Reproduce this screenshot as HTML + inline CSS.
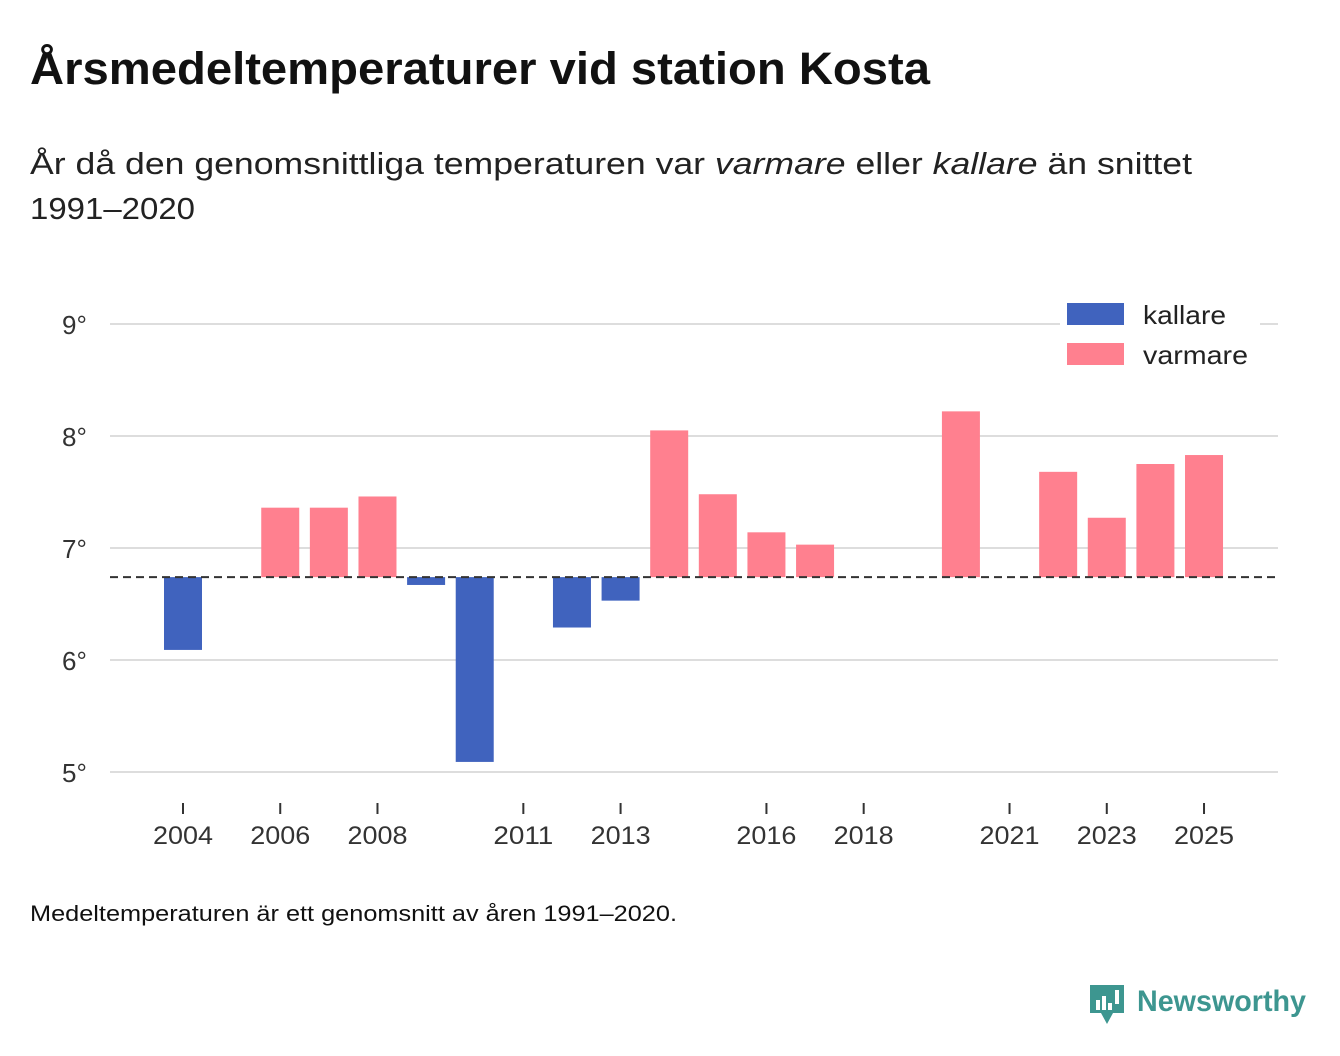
<!DOCTYPE html>
<html><head><meta charset="utf-8"><style>
body{margin:0;background:#fff;font-family:"Liberation Sans",sans-serif;color:#111;}
#wrap{position:relative;width:1340px;height:1056px;overflow:hidden;}
</style></head><body>
<div id="wrap">
<svg id="svg" width="1340" height="1056">
<text x="30" y="84" font-size="45" font-weight="bold" fill="#111" textLength="900" lengthAdjust="spacingAndGlyphs">Årsmedeltemperaturer vid station Kosta</text>
<text x="30" y="174" font-size="31" fill="#222" textLength="1162" lengthAdjust="spacingAndGlyphs">År då den genomsnittliga temperaturen var <tspan font-style="italic">varmare</tspan> eller <tspan font-style="italic">kallare</tspan> än snittet</text>
<text x="30" y="219" font-size="31" fill="#222" textLength="165" lengthAdjust="spacingAndGlyphs">1991–2020</text>
<g id="grid"></g><g id="bars"></g><g id="xaxis"></g>
<g>
<rect x="1060" y="296" width="200" height="80" fill="#fff"/>
<rect x="1067" y="303" width="57" height="22" fill="#4063be"/>
<text x="1143" y="324" font-size="26" fill="#222" textLength="83" lengthAdjust="spacingAndGlyphs">kallare</text>
<rect x="1067" y="343" width="57" height="22" fill="#ff808f"/>
<text x="1143" y="364" font-size="26" fill="#222" textLength="105" lengthAdjust="spacingAndGlyphs">varmare</text>
</g>
<text x="30" y="921" font-size="22" fill="#111" textLength="647" lengthAdjust="spacingAndGlyphs">Medeltemperaturen är ett genomsnitt av åren 1991–2020.</text>
<g>
<path d="M1090 985 h34 v28 h-11 l-6 11 l-6 -11 h-11 z" fill="#3d9690"/>
<rect x="1096" y="1000" width="4" height="10" fill="#fff"/><rect x="1102" y="996" width="4" height="14" fill="#fff"/><rect x="1108" y="1003" width="4" height="7" fill="#fff"/><rect x="1115" y="990" width="4" height="14" fill="#fff"/>
<text x="1137" y="1011" font-size="30" font-weight="bold" fill="#3d9690" textLength="169" lengthAdjust="spacingAndGlyphs">Newsworthy</text>
</g>
</svg></div>
<script>
const years=[2004,2006,2007,2008,2009,2010,2012,2013,2014,2015,2016,2017,2020,2022,2023,2024,2025];
const temps=[6.09,7.36,7.36,7.46,6.67,5.09,6.29,6.53,8.05,7.48,7.14,7.03,8.22,7.68,7.27,7.75,7.83];
const baseline=6.74;
const yTicks=[5,6,7,8,9];
const xTicks=[2004,2006,2008,2011,2013,2016,2018,2021,2023,2025];
const NS='http://www.w3.org/2000/svg';
const y=v=>324+(9-v)*112;
const x=yr=>183+(yr-2004)*48.62;
function mk(tag,attrs,parent){const e=document.createElementNS(NS,tag);for(const k in attrs)e.setAttribute(k,attrs[k]);document.getElementById(parent).appendChild(e);return e;}
yTicks.forEach(t=>{
 const l=mk('line',{x1:110,x2:1278,y1:y(t),y2:y(t),stroke:'#ddd','stroke-width':2},'grid');
 
 
 const tx=mk('text',{x:62,y:y(t)+10,'font-size':26,fill:'#333'},'grid');tx.textContent=t+'°';
 
 
});
years.forEach((yr,i)=>{
 const v=temps[i],t=Math.min(y(v),y(baseline)),h=Math.abs(y(v)-y(baseline));
 const r=mk('rect',{x:x(yr)-19,y:t,width:38,height:h,fill:v<baseline?'#4063be':'#ff808f'},'bars');
 
 
});
const b=mk('line',{x1:110,x2:1278,y1:y(baseline),y2:y(baseline),stroke:'#333','stroke-width':2,'stroke-dasharray':'8,5'},'bars');


xTicks.forEach(yr=>{
 const l=mk('line',{x1:x(yr),x2:x(yr),y1:803,y2:814,stroke:'#333','stroke-width':2},'xaxis');
 
 
 const tx=mk('text',{x:x(yr),y:844,'font-size':25,fill:'#333','text-anchor':'middle','textLength':60,'lengthAdjust':'spacingAndGlyphs'},'xaxis');tx.textContent=yr;
 
 
});
</script></body></html>
